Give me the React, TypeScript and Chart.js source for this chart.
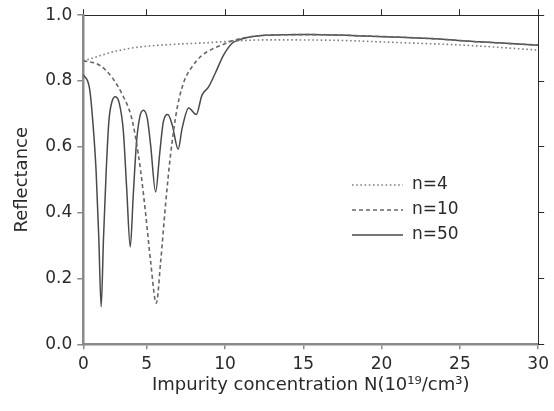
import React, { useEffect, useRef } from "react";
import { Chart, registerables } from "chart.js";

Chart.register(...registerables);

// ---- data ----
const X_MIN = 0.95;
const X_MAX = 30;
const X_TICKS = [0.95, 5, 10, 15, 20, 25, 30];
const X_TICK_LABELS = ["0", "5", "10", "15", "20", "25", "30"];
const Y_TICKS = [0, 0.2, 0.4, 0.6, 0.8, 1.0];

const SERIES_LABELS = ["n=4", "n=10", "n=50"];

const N4_X = [0.95, 1.3, 1.88, 2.72, 3.78, 4.84, 6.94, 8.76, 10.44, 12.56, 16.77, 20.99, 25.22, 30];
const N4_Y = [0.861, 0.866, 0.875, 0.887, 0.898, 0.905, 0.912, 0.916, 0.921, 0.925, 0.924, 0.917, 0.909, 0.894];

const N10_X = [0.95, 1.99, 2.83, 3.46, 3.99, 4.3, 4.62, 4.94, 5.25, 5.61, 5.89, 6.2, 6.52, 6.94, 7.37, 7.89, 8.53, 9.18, 10.03, 10.44, 11.5, 12.56, 15.3, 18.89, 23.1, 26.27, 30];
const N10_Y = [0.862, 0.848, 0.808, 0.757, 0.696, 0.626, 0.524, 0.393, 0.251, 0.125, 0.251, 0.423, 0.575, 0.717, 0.797, 0.843, 0.878, 0.897, 0.914, 0.922, 0.934, 0.939, 0.941, 0.937, 0.929, 0.919, 0.909];

const N50_X = [0.95, 1.35, 1.56, 1.77, 1.94, 2.09, 2.24, 2.41, 2.58, 2.78, 3.0, 3.25, 3.51, 3.72, 3.95, 4.14, 4.35, 4.56, 4.79, 5.04, 5.25, 5.57, 5.82, 6.06, 6.35, 6.63, 7.01, 7.26, 7.68, 8.16, 8.53, 8.95, 9.37, 9.9, 10.44, 10.82, 11.5, 12.56, 15.3, 18.89, 23.1, 26.27, 30];
const N50_Y = [0.82, 0.777, 0.676, 0.524, 0.322, 0.114, 0.322, 0.524, 0.676, 0.737, 0.752, 0.732, 0.646, 0.474, 0.296, 0.453, 0.615, 0.691, 0.711, 0.686, 0.605, 0.463, 0.575, 0.676, 0.698, 0.666, 0.593, 0.656, 0.718, 0.698, 0.757, 0.782, 0.823, 0.878, 0.914, 0.924, 0.933, 0.939, 0.941, 0.937, 0.929, 0.919, 0.909];

// ---- style ----
const FONT = '"DejaVu Sans", "Liberation Sans", sans-serif';
const TEXT = "#2a2a2a";
const AXIS_GRAY = "#8a8a8a";
const AXIS_DARK = "#2a2a2a";

const toPoints = (xs: number[], ys: number[]) => xs.map((x, i) => ({ x, y: ys[i] }));

const insideLegend = {
  id: "insideLegend",
  afterDatasetsDraw(chart: any) {
    const ctx = chart.ctx;
    chart.data.datasets.forEach((ds: any, i: number) => {
      const y = 185 + i * 25;
      ctx.save();
      ctx.strokeStyle = ds.borderColor;
      ctx.lineWidth = ds.borderWidth;
      ctx.setLineDash(ds.borderDash || []);
      ctx.beginPath();
      ctx.moveTo(352, y);
      ctx.lineTo(403, y);
      ctx.stroke();
      ctx.setLineDash([]);
      ctx.fillStyle = TEXT;
      ctx.font = `17px ${FONT}`;
      ctx.textBaseline = "middle";
      ctx.textAlign = "left";
      ctx.fillText(ds.label, 412, y);
      ctx.restore();
    });
  },
};

const setXTicks = (s: any) => {
  s.ticks = X_TICKS.map((v) => ({ value: v }));
};
const setYTicks = (s: any) => {
  s.ticks = Y_TICKS.map((v) => ({ value: v }));
};

export default function App() {
  const ref = useRef<HTMLCanvasElement | null>(null);

  useEffect(() => {
    if (!ref.current) return;
    const chart = new Chart(ref.current, {
      type: "line",
      data: {
        datasets: [
          {
            label: SERIES_LABELS[0],
            data: toPoints(N4_X, N4_Y),
            borderColor: "#808080",
            borderWidth: 1.6,
            borderDash: [1.6, 2.6],
            pointRadius: 0,
            cubicInterpolationMode: "monotone",
          },
          {
            label: SERIES_LABELS[1],
            data: toPoints(N10_X, N10_Y),
            borderColor: "#666666",
            borderWidth: 1.6,
            borderDash: [4, 3],
            pointRadius: 0,
            cubicInterpolationMode: "monotone",
          },
          {
            label: SERIES_LABELS[2],
            data: toPoints(N50_X, N50_Y),
            borderColor: "#4a4a4a",
            borderWidth: 1.5,
            pointRadius: 0,
            cubicInterpolationMode: "monotone",
          },
        ],
      },
      options: {
        responsive: false,
        animation: false,
        layout: { padding: 0 },
        plugins: { legend: { display: false }, tooltip: { enabled: false } },
        scales: {
          x: {
            type: "linear",
            position: "bottom",
            min: X_MIN,
            max: X_MAX,
            afterBuildTicks: setXTicks,
            afterFit: (s: any) => { s.height = 66.7; },
            grid: { display: true, drawOnChartArea: false, drawTicks: true, tickLength: 5, color: AXIS_GRAY, lineWidth: 1.5 },
            border: { display: true, color: AXIS_GRAY, width: 2.5 },
            ticks: {
              color: TEXT,
              font: { family: FONT, size: 17 },
              padding: 5,
              maxRotation: 0,
              autoSkip: false,
              callback: (_v: any, i: number) => X_TICK_LABELS[i],
            },
            title: {
              display: true,
              text: "Impurity concentration N(10¹⁹/cm³)",
              color: TEXT,
              font: { family: FONT, size: 18 },
              padding: { top: 0, bottom: 15 },
            },
          },
          x2: {
            type: "linear",
            position: "top",
            min: X_MIN,
            max: X_MAX,
            afterBuildTicks: setXTicks,
            afterFit: (s: any) => { s.height = 15; },
            grid: { display: true, drawOnChartArea: false, drawTicks: true, tickLength: 6, color: AXIS_DARK, lineWidth: 1 },
            border: { display: true, color: AXIS_DARK, width: 1 },
            ticks: { display: false },
          },
          y: {
            type: "linear",
            position: "left",
            min: 0,
            max: 1,
            afterBuildTicks: setYTicks,
            afterFit: (s: any) => { s.width = 83.3; },
            grid: { display: true, drawOnChartArea: false, drawTicks: true, tickLength: 6, color: AXIS_GRAY, lineWidth: 1.5 },
            border: { display: true, color: AXIS_GRAY, width: 2.5 },
            ticks: {
              color: TEXT,
              font: { family: FONT, size: 17 },
              padding: 5,
              callback: (v: any) => Number(v).toFixed(1),
            },
            title: {
              display: true,
              text: "Reflectance",
              color: TEXT,
              font: { family: FONT, size: 18 },
              padding: { top: 12, bottom: 0 },
            },
          },
          y2: {
            type: "linear",
            position: "right",
            min: 0,
            max: 1,
            afterBuildTicks: setYTicks,
            afterFit: (s: any) => { s.width = 11.7; },
            grid: { display: true, drawOnChartArea: false, drawTicks: true, tickLength: 6, color: AXIS_DARK, lineWidth: 1 },
            border: { display: true, color: AXIS_DARK, width: 1 },
            ticks: { display: false },
          },
        },
      } as any,
      plugins: [insideLegend],
    });
    return () => chart.destroy();
  }, []);

  return (
    <div style={{ position: "fixed", left: 0, top: 0, width: 554, height: 411, background: "#fff" }}>
      <canvas ref={ref} width={554} height={411} style={{ display: "block" }} />
    </div>
  );
}
